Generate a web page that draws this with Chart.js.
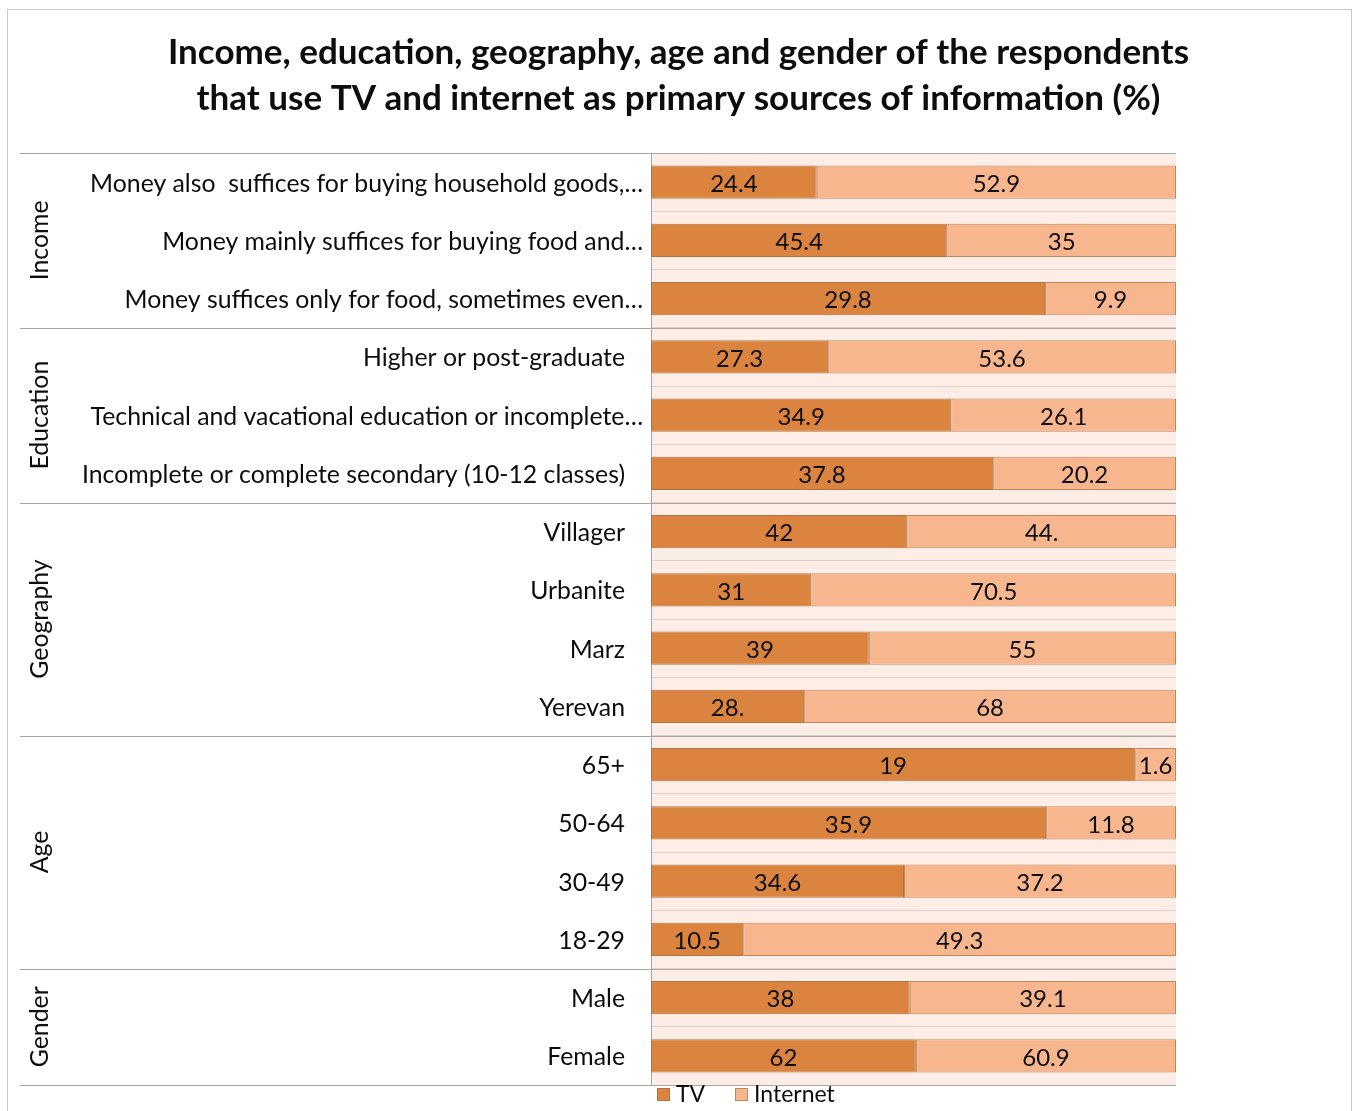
<!DOCTYPE html>
<html>
<head>
<meta charset="utf-8">
<script src="https://cdn.jsdelivr.net/npm/chart.js@4.4.1/dist/chart.umd.min.js"></script>
<style>
  body { margin: 0; background: #fff; }
  #frame {
    position: absolute; left: 7px; top: 9px; width: 1345px; height: 1110px;
    border: 1px solid #c9c9c9; box-sizing: border-box;
  }
  #wrap { position: absolute; left: 0; top: 0; width: 1357px; height: 1111px; }
</style>
</head>
<body>
<div id="frame"></div>
<div id="wrap"><canvas id="mediaChart"></canvas></div>
<script>
// Row labels, top to bottom
const categories = [
  "Money also  suffices for buying household goods,…",
  "Money mainly suffices for buying food and…",
  "Money suffices only for food, sometimes even…",
  "Higher or post-graduate",
  "Technical and vacational education or incomplete…",
  "Incomplete or complete secondary (10-12 classes)",
  "Villager",
  "Urbanite",
  "Marz",
  "Yerevan",
  "65+",
  "50-64",
  "30-49",
  "18-29",
  "Male",
  "Female",
];

// Groups: name and how many rows they span
const groupNames = ["Income", "Education", "Geography", "Age", "Gender"];
const groupSizes = [3, 3, 4, 4, 2];

// Values as printed on the bars (kept as text so "28." stays "28.")
const tvValues = ["24.4", "45.4", "29.8", "27.3", "34.9", "37.8", "42", "31", "39", "28.", "19", "35.9", "34.6", "10.5", "38", "62"];
const internetValues = ["52.9", "35", "9.9", "53.6", "26.1", "20.2", "44.", "70.5", "55", "68", "1.6", "11.8", "37.2", "49.3", "39.1", "60.9"];

const seriesNames = ["TV", "Internet"];

const titleLines = [
  "Income, education, geography, age and gender of the respondents",
  "that use TV and internet as primary sources of information (%)",
];

const FONT = "Lato, 'Open Sans', sans-serif";
const TEXT = "#0d0d0d";
const LABEL_SIZE = 24.8;

const tvNum = tvValues.map(parseFloat);
const netNum = internetValues.map(parseFloat);
// 100% stacked: each row is split by share of its total
const tvShare = tvNum.map((v, i) => (v / (v + netNum[i])) * 100);
const netShare = netNum.map((v, i) => (v / (tvNum[i] + v)) * 100);

const plotBackground = {
  id: "plotBackground",
  beforeDraw(chart) {
    const { ctx, chartArea: a } = chart;
    ctx.save();
    ctx.fillStyle = "#fcede7";
    ctx.fillRect(a.left, a.top, a.right - a.left, a.bottom - a.top);
    ctx.restore();
  },
};

// title centred on the whole canvas, not on the plot
const pageTitle = {
  id: "pageTitle",
  afterDraw(chart) {
    const { ctx, width } = chart;
    ctx.save();
    ctx.fillStyle = TEXT;
    ctx.font = "bold 35px " + FONT;
    ctx.textAlign = "center";
    ctx.textBaseline = "middle";
    titleLines.forEach((t, i) => ctx.fillText(t, width / 2, 53 + i * 46));
    ctx.restore();
  },
};

const sideLabels = {
  id: "sideLabels",
  afterDraw(chart) {
    const { ctx, chartArea: a } = chart;
    const y = chart.scales.y;
    ctx.save();
    ctx.fillStyle = TEXT;
    ctx.font = LABEL_SIZE + "px " + FONT;
    ctx.textBaseline = "middle";
    ctx.textAlign = "right";
    categories.forEach((c, i) => {
      const right = c.endsWith("…") ? a.left - 8 : a.left - 26;
      ctx.fillText(c, right, y.getPixelForValue(i) + 1.5);
    });

    // group separators and rotated group names
    const step = (a.bottom - a.top) / categories.length;
    ctx.strokeStyle = "#a6a6a6";
    ctx.lineWidth = 1;
    let row = 0;
    const edges = [a.top];
    groupSizes.forEach((n, g) => {
      const top = a.top + row * step;
      row += n;
      const bottom = a.top + row * step;
      edges.push(bottom);
      ctx.save();
      ctx.translate(40, (top + bottom) / 2);
      ctx.rotate(-Math.PI / 2);
      ctx.textAlign = "center";
      ctx.fillText(groupNames[g], 0, 0);
      ctx.restore();
    });
    edges.forEach((e) => {
      const yy = Math.round(e) + 0.5;
      ctx.beginPath();
      ctx.moveTo(20, yy);
      ctx.lineTo(a.right, yy);
      ctx.stroke();
    });
    ctx.restore();
  },
};

const barValues = {
  id: "barValues",
  afterDatasetsDraw(chart) {
    const { ctx } = chart;
    const texts = [tvValues, internetValues];
    ctx.save();
    ctx.fillStyle = TEXT;
    ctx.font = "24px " + FONT;
    ctx.textAlign = "center";
    ctx.textBaseline = "middle";
    chart.data.datasets.forEach((ds, d) => {
      chart.getDatasetMeta(d).data.forEach((bar, i) => {
        const p = bar.getProps(["x", "y", "base"], true);
        ctx.fillText(texts[d][i], (p.x + p.base) / 2, p.y + 2);
      });
    });
    ctx.restore();
  },
};

const bottomLegend = {
  id: "bottomLegend",
  afterDraw(chart) {
    const { ctx } = chart;
    const items = [
      { x: 657, label: seriesNames[0], ds: chart.data.datasets[0] },
      { x: 735, label: seriesNames[1], ds: chart.data.datasets[1] },
    ];
    ctx.save();
    ctx.font = "23px " + FONT;
    ctx.textBaseline = "middle";
    ctx.textAlign = "left";
    items.forEach((it) => {
      ctx.fillStyle = it.ds.backgroundColor;
      ctx.fillRect(it.x, 1088, 13, 13);
      ctx.strokeStyle = it.ds.borderColor;
      ctx.strokeRect(it.x + 0.5, 1088.5, 12, 12);
      ctx.fillStyle = TEXT;
      ctx.fillText(it.label, it.x + 19, 1095);
    });
    ctx.restore();
  },
};

new Chart(document.getElementById("mediaChart"), {
  type: "bar",
  data: {
    labels: categories,
    datasets: [
      {
        label: seriesNames[0],
        data: tvShare,
        backgroundColor: "#da843f",
        borderColor: "#ad7644",
        borderWidth: 1,
        borderSkipped: false,
        barPercentage: 0.567,
        categoryPercentage: 1,
      },
      {
        label: seriesNames[1],
        data: netShare,
        backgroundColor: "#f8b68f",
        borderColor: "#bd8a5c",
        borderWidth: 1,
        borderSkipped: false,
        barPercentage: 0.567,
        categoryPercentage: 1,
      },
    ],
  },
  options: {
    indexAxis: "y",
    responsive: true,
    maintainAspectRatio: false,
    animation: false,
    layout: { padding: { left: 651, right: 181, top: 153, bottom: 26 } },
    scales: {
      x: { display: false, stacked: true, min: 0, max: 100 },
      y: {
        stacked: true,
        ticks: { display: false },
        grid: { color: "#ddd3cf", drawTicks: false, offset: true },
        border: { display: true, color: "#a6a6a6" },
      },
    },
    plugins: {
      legend: { display: false },
      tooltip: { enabled: false },
      title: { display: false },
    },
  },
  plugins: [plotBackground, sideLabels, barValues, bottomLegend, pageTitle],
});
</script>
</body>
</html>
